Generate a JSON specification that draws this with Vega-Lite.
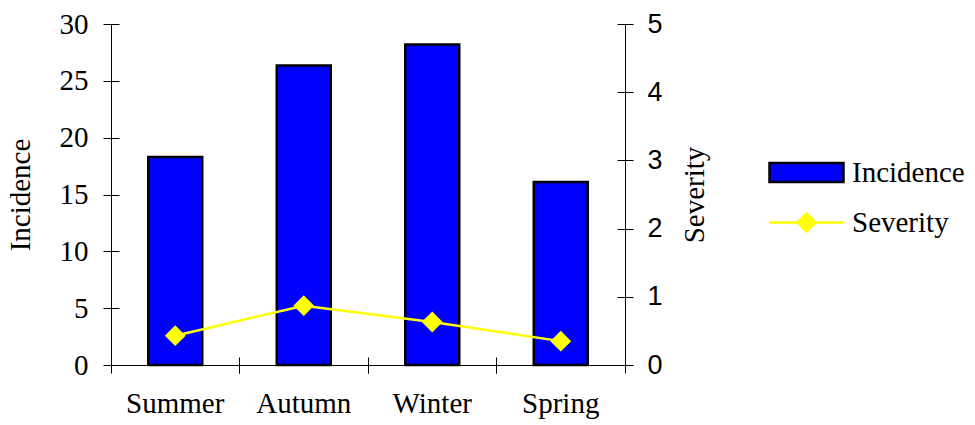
{
  "$schema": "https://vega.github.io/schema/vega-lite/v6.json",
  "width": 514,
  "height": 341,
  "autosize": {"type": "none"},
  "padding": {"left": 111, "top": 24, "right": 350, "bottom": 60},
  "background": "white",
  "config": {
    "view": {"stroke": null},
    "axis": {"domainColor": "black", "tickColor": "black", "labelColor": "black", "titleColor": "black", "grid": false, "titleFontWeight": "normal", "domainWidth": 1, "tickWidth": 1}
  },
  "data": {
    "values": [
      {"season": "Summer", "incidence": 18.3, "severity": 0.43},
      {"season": "Autumn", "incidence": 26.35, "severity": 0.87},
      {"season": "Winter", "incidence": 28.2, "severity": 0.63},
      {"season": "Spring", "incidence": 16.1, "severity": 0.35}
    ]
  },
  "resolve": {"scale": {"y": "independent"}, "axis": {"x": "independent", "y": "independent"}},
  "layer": [
    {
      "mark": {"type": "bar", "width": {"band": 0.42}, "stroke": "black", "strokeWidth": 2.5},
      "encoding": {
        "x": {"field": "season", "type": "nominal", "sort": ["Summer", "Autumn", "Winter", "Spring"],
          "scale": {"paddingInner": 0, "paddingOuter": 0},
          "axis": {"orient": "bottom", "title": null, "bandPosition": 0, "tickSize": 8, "labelPadding": 16, "labelAngle": 0, "labelFont": "Liberation Serif", "labelFontSize": 29}},
        "y": {"field": "incidence", "type": "quantitative", "scale": {"domain": [0, 30]},
          "axis": {"orient": "left", "title": "Incidence", "values": [0, 5, 10, 15, 20, 25, 30], "tickSize": 8, "labelPadding": 15, "labelFont": "Liberation Serif", "labelFontSize": 29, "titleFont": "Liberation Serif", "titleFontSize": 29, "titlePadding": 24}},
        "fill": {"datum": "Incidence", "type": "nominal", "scale": {"range": ["#0000FF"]},
          "legend": {"orient": "none", "legendX": 657, "legendY": 110, "title": null, "symbolType": "M-1,-0.257H1V0.257H-1Z", "symbolSize": 5476, "symbolStrokeColor": "black", "symbolStrokeWidth": 2.5, "labelFont": "Liberation Serif", "labelFontSize": 29, "labelColor": "black", "labelOffset": 7,
            "encode": {"symbols": {"update": {"stroke": {"value": "black"}, "strokeWidth": {"value": 2.5}, "fill": {"value": "#0000FF"}, "opacity": {"value": 1}}}}}}
      }
    },
    {
      "mark": {"type": "bar", "width": {"band": 0.42}, "opacity": 0},
      "encoding": {
        "x": {"field": "season", "type": "nominal", "sort": ["Summer", "Autumn", "Winter", "Spring"],
          "axis": {"orient": "bottom", "title": null, "bandPosition": 1, "offset": -8, "tickSize": 16, "labels": false, "domain": false}},
        "y": {"field": "incidence", "type": "quantitative", "scale": {"domain": [0, 30]},
          "axis": {"orient": "left", "title": null, "values": [0, 5, 10, 15, 20, 25, 30], "offset": -8, "tickSize": 8, "labels": false, "domain": false}}
      }
    },
    {
      "mark": {"type": "line", "color": "#FFFF00", "strokeWidth": 2.5,
        "point": {"shape": "diamond", "size": 324, "filled": true, "color": "#FFFF00"}},
      "encoding": {
        "x": {"field": "season", "type": "nominal", "sort": ["Summer", "Autumn", "Winter", "Spring"], "axis": null},
        "y": {"field": "severity", "type": "quantitative", "scale": {"domain": [0, 5]},
          "axis": {"orient": "right", "title": "Severity", "values": [0, 1, 2, 3, 4, 5], "tickSize": 8, "labelPadding": 14, "labelFont": "Liberation Sans", "labelFontSize": 27, "titleFont": "Liberation Serif", "titleFontSize": 29, "titleAngle": -90, "titlePadding": 47}},
        "stroke": {"datum": "Severity", "type": "nominal", "scale": {"range": ["#FFFF00"]},
          "legend": {"orient": "none", "legendX": 657, "legendY": 160, "title": null, "symbolType": "M-1,0H1M0,-0.243L0.243,0L0,0.243L-0.243,0Z", "symbolSize": 5476, "symbolStrokeWidth": 2.5, "symbolFillColor": "#FFFF00", "labelFont": "Liberation Serif", "labelFontSize": 29, "labelColor": "black", "labelOffset": 7,
            "encode": {"symbols": {"update": {"stroke": {"value": "#FFFF00"}, "fill": {"value": "#FFFF00"}, "strokeWidth": {"value": 2.5}, "opacity": {"value": 1}}}}}}
      }
    },
    {
      "mark": {"type": "line", "strokeOpacity": 0},
      "encoding": {
        "x": {"field": "season", "type": "nominal", "sort": ["Summer", "Autumn", "Winter", "Spring"], "axis": null},
        "y": {"field": "severity", "type": "quantitative", "scale": {"domain": [0, 5]},
          "axis": {"orient": "right", "title": null, "values": [0, 1, 2, 3, 4, 5], "offset": -8, "tickSize": 8, "labels": false, "domain": false}}
      }
    }
  ]
}
